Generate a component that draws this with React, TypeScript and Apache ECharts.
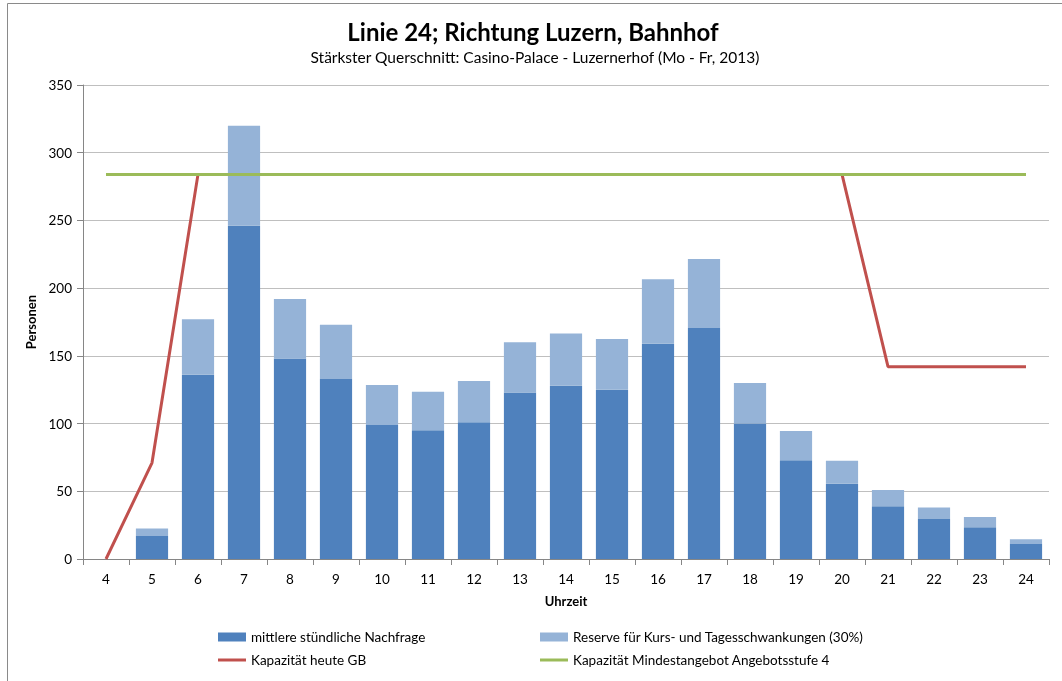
import React, { useEffect, useRef } from "react";
import * as echarts from "echarts";

const hours = ["4", "5", "6", "7", "8", "9", "10", "11", "12", "13", "14", "15", "16", "17", "18", "19", "20", "21", "22", "23", "24"];
const demand: (number | null)[] = [null, 17, 136, 246, 148, 133, 99, 95, 101, 123, 128, 125, 159, 170.5, 100, 73, 55.5, 39, 29.5, 23.5, 11];
const reserve: (number | null)[] = [null, 5.5, 41, 74, 44, 40, 29.5, 28.5, 30.5, 37, 38.5, 37.5, 47.5, 51, 30, 21.5, 17, 12, 8.5, 7.5, 3.5];
const capacityToday: number[] = [0, 71, 284, 284, 284, 284, 284, 284, 284, 284, 284, 284, 284, 284, 284, 284, 284, 142, 142, 142, 142];
const capacityMin: number[] = [284, 284, 284, 284, 284, 284, 284, 284, 284, 284, 284, 284, 284, 284, 284, 284, 284, 284, 284, 284, 284];

const nameDemand = "mittlere stündliche Nachfrage";
const nameReserve = "Reserve für Kurs- und Tagesschwankungen (30%)";
const nameToday = "Kapazität heute GB";
const nameMin = "Kapazität Mindestangebot Angebotsstufe 4";

const FONT = "Lato, 'Open Sans', sans-serif";

export default function App() {
  const ref = useRef<HTMLDivElement>(null);
  useEffect(() => {
    if (!ref.current) return;
    const chart = echarts.init(ref.current, null, { renderer: "svg" });
    const legendBase = {
      orient: "horizontal" as const,
      padding: 0,
      itemGap: 0,
      textStyle: { fontFamily: FONT, fontSize: 13.5, color: "#000" },
      selectedMode: false,
    };
    chart.setOption({
      animation: false,
      textStyle: { fontFamily: FONT },
      title: [
        {
          text: "Linie 24; Richtung Luzern, Bahnhof",
          left: 533,
          top: 19,
          textAlign: "center",
          textStyle: { fontFamily: FONT, fontSize: 24, fontWeight: "bold", color: "#000" },
          padding: 0,
        },
        {
          text: "Stärkster Querschnitt: Casino-Palace - Luzernerhof (Mo - Fr, 2013)",
          left: 535,
          top: 49,
          textAlign: "center",
          textStyle: { fontFamily: FONT, fontSize: 15.5, fontWeight: "normal", color: "#000" },
          padding: 0,
        },
      ],
      legend: [
        { ...legendBase, data: [{ name: nameDemand, icon: "rect" }], left: 218, top: 630, itemWidth: 28, itemHeight: 9 },
        { ...legendBase, data: [{ name: nameReserve, icon: "rect" }], left: 540, top: 630, itemWidth: 28, itemHeight: 9 },
        { ...legendBase, data: [{ name: nameToday, icon: "rect" }], left: 218, top: 653, itemWidth: 28, itemHeight: 3 },
        { ...legendBase, data: [{ name: nameMin, icon: "rect" }], left: 540, top: 653, itemWidth: 28, itemHeight: 3 },
      ],
      grid: { left: 83, right: 13, top: 85, bottom: 122, containLabel: false },
      xAxis: {
        type: "category",
        data: hours,
        boundaryGap: true,
        name: "Uhrzeit",
        nameLocation: "middle",
        nameGap: 35,
        nameTextStyle: { fontFamily: FONT, fontSize: 13, fontWeight: "bold", color: "#000" },
        axisLine: { lineStyle: { color: "#868686", width: 1 } },
        axisTick: { show: true, interval: 0, length: 6, lineStyle: { color: "#868686" } },
        axisLabel: { interval: 0, margin: 13, fontFamily: FONT, fontSize: 13.5, color: "#000" },
        splitLine: { show: false },
      },
      yAxis: {
        type: "value",
        min: 0,
        max: 350,
        interval: 50,
        name: "Personen",
        nameLocation: "middle",
        nameGap: 45,
        nameRotate: 90,
        nameTextStyle: { fontFamily: FONT, fontSize: 13, fontWeight: "bold", color: "#000" },
        axisLine: { show: true, lineStyle: { color: "#868686", width: 1 } },
        axisTick: { show: true, length: 6, lineStyle: { color: "#868686" } },
        axisLabel: { margin: 11, fontFamily: FONT, fontSize: 13.5, color: "#000" },
        splitLine: { show: true, lineStyle: { color: "#bfbfbf", width: 1 } },
      },
      series: [
        {
          name: nameDemand,
          type: "bar",
          stack: "total",
          data: demand,
          barCategoryGap: "30%",
          itemStyle: { color: "#4F81BD" },
        },
        {
          name: nameReserve,
          type: "bar",
          stack: "total",
          data: reserve,
          barCategoryGap: "30%",
          itemStyle: { color: "#95B3D7" },
        },
        {
          name: nameToday,
          type: "line",
          data: capacityToday,
          symbol: "none",
          lineStyle: { color: "#C0504D", width: 3 },
          itemStyle: { color: "#C0504D" },
          z: 3,
        },
        {
          name: nameMin,
          type: "line",
          data: capacityMin,
          symbol: "none",
          lineStyle: { color: "#9BBB59", width: 3 },
          itemStyle: { color: "#9BBB59" },
          z: 4,
        },
      ],
      graphic: [
        {
          type: "polyline",
          shape: { points: [[7.5, 681], [7.5, 3.5], [1062, 3.5]] },
          style: { stroke: "#8a8a8a", lineWidth: 1, fill: "none" },
          silent: true,
        },
      ],
    });
    return () => chart.dispose();
  }, []);
  return <div ref={ref} style={{ position: "fixed", left: 0, top: 0, width: 1062, height: 681 }} />;
}
